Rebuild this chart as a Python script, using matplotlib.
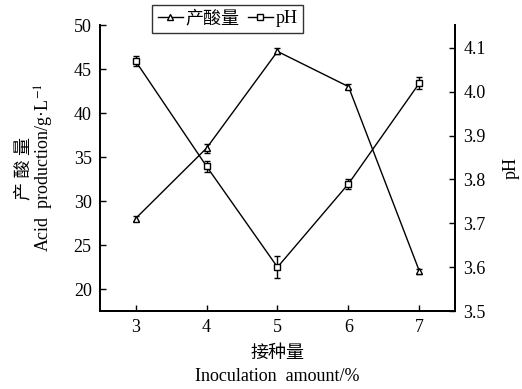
import matplotlib
matplotlib.use("Agg")
import matplotlib.pyplot as plt
from matplotlib.lines import Line2D

plt.rcParams['font.family'] = ['Liberation Serif', 'Noto Sans CJK SC']
plt.rcParams['mathtext.fontset'] = 'stix'

x = [3, 4, 5, 6, 7]
acid = [28, 36, 47, 43, 22]
acid_err = [0.3, 0.5, 0.35, 0.3, 0.3]
ph = [4.07, 3.83, 3.60, 3.79, 4.02]
ph_err = [0.012, 0.013, 0.025, 0.012, 0.013]

fs = 13
fig = plt.figure(figsize=(5.22, 3.89), dpi=100)
ax = fig.add_axes([0.1916, 0.2005, 0.68, 0.7352])
ax2 = ax.twinx()

ax.errorbar(x, acid, yerr=acid_err, color='black', lw=1.0, marker='^',
            ms=5, mfc='white', mec='black', mew=1.0, capsize=2.5,
            elinewidth=1.0)
ax2.errorbar(x, ph, yerr=ph_err, color='black', lw=1.0, marker='s',
             ms=4.5, mfc='white', mec='black', mew=1.0, capsize=2.5,
             elinewidth=1.0)

ax.set_xlim(2.5, 7.5)
ax.set_ylim(17.5, 50)
ax2.set_ylim(3.5, 4.152)
ax.set_xticks(x)
ax.set_yticks([20, 25, 30, 35, 40, 45, 50])
ax2.set_yticks([3.5, 3.6, 3.7, 3.8, 3.9, 4.0, 4.1])
ax2.set_yticklabels(['3.5', '3.6', '3.7', '3.8', '3.9', '4.0', '4.1'])

for a in (ax, ax2):
    a.spines['top'].set_visible(False)
    for s in a.spines.values():
        s.set_linewidth(1.3)
ax.tick_params(axis='x', direction='in', length=4, width=1, labelsize=fs, pad=6)
ax.tick_params(axis='y', direction='in', length=4, width=1, labelsize=fs, pad=6)
ax2.tick_params(axis='y', direction='in', length=4, width=1, labelsize=fs, pad=6)

ax.set_ylabel('产 酸 量\nAcid  production/g·L$^{-1}$', fontsize=fs, linespacing=1.0, labelpad=13)
ax2.set_ylabel('pH', fontsize=fs, labelpad=12)
ax.set_xlabel('接种量\nInoculation  amount/%', fontsize=fs, linespacing=1.5, labelpad=6)

h1 = Line2D([], [], color='black', lw=1.0, marker='^', ms=5, mfc='white', mec='black')
h2 = Line2D([], [], color='black', lw=1.0, marker='s', ms=4.5, mfc='white', mec='black')
leg = ax.legend(handles=[h1, h2], labels=['产酸量', 'pH'], loc='upper left',
                bbox_to_anchor=(0.147, 1.07), ncol=2, frameon=True, fancybox=False,
                edgecolor='black', fontsize=fs, handlelength=1.4, handletextpad=0.15,
                columnspacing=0.45, borderpad=0.3, borderaxespad=0)
leg.get_frame().set_linewidth(1.0)

fig.savefig('out.png', dpi=100)
